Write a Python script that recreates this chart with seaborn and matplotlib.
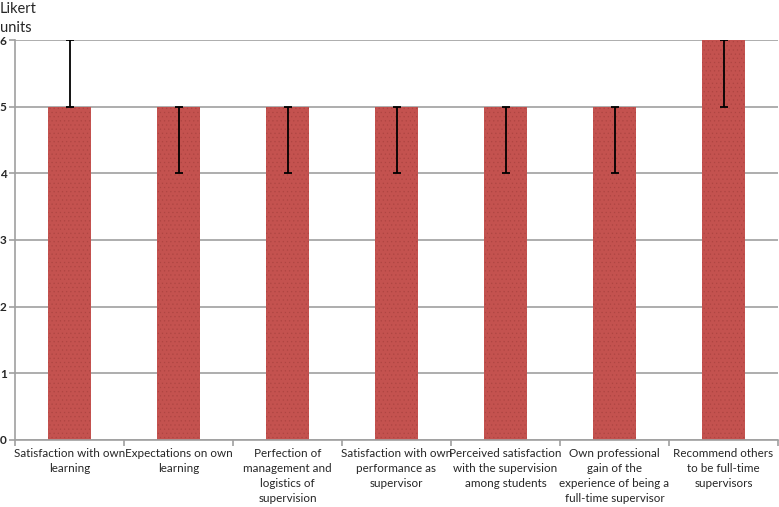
import matplotlib
matplotlib.use("Agg")
import matplotlib.pyplot as plt
import seaborn as sns
import numpy as np
import pandas as pd

categories = [
    "Satisfaction with own\nlearning",
    "Expectations on own\nlearning",
    "Perfection of\nmanagement and\nlogistics of\nsupervision",
    "Satisfaction with own\nperformance as\nsupervisor",
    "Perceived satisfaction\nwith the supervision\namong students",
    "Own professional\ngain of the\nexperience of being a\nfull-time supervisor",
    "Recommend others\nto be full-time\nsupervisors",
]
medians = [5, 5, 5, 5, 5, 5, 6]
err_low = [0, 1, 1, 1, 1, 1, 1]
err_high = [1, 0, 0, 0, 0, 0, 0]
yticks = [0, 1, 2, 3, 4, 5, 6]

sns.set_theme(style="white")
plt.rcParams['font.family'] = ['Lato', 'DejaVu Sans']
plt.rcParams['hatch.linewidth'] = 0.4

df = pd.DataFrame({"cat": categories, "val": medians})

fig = plt.figure(figsize=(7.79, 5.07), dpi=100)
ax = fig.add_axes([15/779, 1-440/507, 1-15/779 - 1/779, 400/507])

sns.barplot(data=df, x="cat", y="val", color="#C4524F", saturation=1,
            width=0.4, ax=ax, errorbar=None)
for p in ax.patches:
    p.set_hatch("....")
    p.set_edgecolor("#AE4542")
    p.set_linewidth(0)

ax.errorbar(np.arange(len(categories)), medians, yerr=[err_low, err_high],
            fmt="none", ecolor="black", elinewidth=1.3, capsize=3, capthick=1.3, zorder=5)

ax.set_xlim(-0.5, len(categories) - 0.5)
ax.set_ylim(0, 6)
ax.set_yticks(yticks)
ax.set_yticklabels([str(v) for v in yticks], fontsize=8.5, fontweight="bold")
ax.yaxis.grid(True, color="#A0A0A0", linewidth=1.2)
ax.set_axisbelow(True)
ax.set_xlabel("")
ax.set_ylabel("")
ax.set_xticks(np.arange(len(categories)))
ax.set_xticklabels(categories, fontsize=8.4, linespacing=1.42, va="top")
ax.set_xticks(np.arange(-0.5, len(categories), 1.0), minor=True)
ax.tick_params(axis="x", which="major", length=0, pad=6)
ax.tick_params(axis="x", which="minor", length=4, color="#A0A0A0", width=1.2, direction="out", bottom=True)
ax.tick_params(axis="y", length=4, color="#A0A0A0", width=1.2, direction="out", left=True, pad=2)
for s in ["top", "right"]:
    ax.spines[s].set_visible(False)
for s in ["left", "bottom"]:
    ax.spines[s].set_color("#A0A0A0")
    ax.spines[s].set_linewidth(1.2)

fig.text(0.0, 1 - 2/507, "Likert\nunits", fontsize=10.5, va="top", ha="left", linespacing=1.45)

fig.savefig("out.png", dpi=100)
